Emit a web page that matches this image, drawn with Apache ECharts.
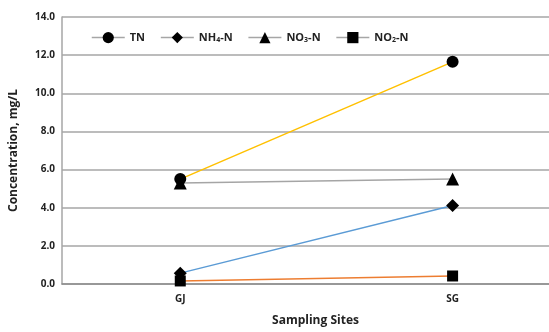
<!DOCTYPE html>
<html>
<head>
<meta charset="utf-8">
<script src="https://cdn.jsdelivr.net/npm/echarts@6/dist/echarts.min.js"></script>
<style>
  html, body { margin: 0; padding: 0; background: #fff; }
  #chart { width: 549px; height: 332px; }
</style>
</head>
<body>
<div id="chart"></div>
<script>
// Sampling sites (placed at x = 1, 2 on a numeric axis)
const sites = ['GJ', 'SG'];
const sitePos = [1, 2];

// Concentrations, mg/L
const tn  = [5.5, 11.65];
const nh4 = [0.57, 4.12];
const no3 = [5.3, 5.5];
const no2 = [0.16, 0.42];

const yTicks = [0, 2, 4, 6, 8, 10, 12, 14];

const FONT = '"Open Sans", "Noto Sans", sans-serif';

function pairs(vals) {
  return vals.map((v, i) => [sitePos[i], v]);
}

const seriesDefs = [
  { name: 'TN',   data: tn,  symbol: 'circle',   size: 12, color: '#FFC000' },
  { name: 'NH4',  data: nh4, symbol: 'diamond',  size: 13, color: '#5B9BD5' },
  { name: 'NO3',  data: no3, symbol: 'triangle', size: 13, color: '#A5A5A5' },
  { name: 'NO2',  data: no2, symbol: 'rect',     size: 11, color: '#ED7D31' }
];

const legendText = {
  TN: 'TN',
  NH4: 'NH{s|4}-N',
  NO3: 'NO{s|3}-N',
  NO2: 'NO{s|2}-N'
};

const chart = echarts.init(document.getElementById('chart'), null, { renderer: 'canvas' });

chart.setOption({
  animation: false,
  grid: { left: 59, right: 0, top: 17, bottom: 46, containLabel: false },
  legend: {
    top: 27,
    left: 86,
    itemWidth: 33,
    itemHeight: 14,
    itemGap: 15,
    data: seriesDefs.map(s => ({
      name: s.name,
      itemStyle: { color: '#000' },
      lineStyle: { color: '#a6a6a6', width: 1.5 }
    })),
    formatter: n => legendText[n],
    textStyle: {
      fontFamily: FONT, fontSize: 11, fontWeight: 'bold', color: '#222',
      rich: {
        s: { fontFamily: FONT, fontSize: 7, fontWeight: 'bold', color: '#222', verticalAlign: 'bottom', padding: [5, 0, 0, 0] }
      }
    }
  },
  xAxis: {
    type: 'value',
    min: 0.5657,
    max: 2.354,
    name: 'Sampling Sites',
    nameLocation: 'middle',
    nameGap: 31,
    nameTextStyle: { fontFamily: FONT, fontSize: 12, fontWeight: 'bold', color: '#222', padding: [0, 0, 0, 20] },
    axisLine: { show: true, lineStyle: { color: '#8c8c8c', width: 1.5 } },
    axisTick: { show: false },
    splitLine: { show: false },
    axisLabel: {
      customValues: sitePos,
      formatter: v => sites[sitePos.indexOf(Math.round(v))] || '',
      fontFamily: FONT, fontSize: 10, fontWeight: 'bold', color: '#222', margin: 10
    }
  },
  yAxis: {
    type: 'value',
    min: 0,
    max: 14,
    interval: 2,
    name: 'Concentration, mg/L',
    nameLocation: 'middle',
    nameGap: 42,
    nameTextStyle: { fontFamily: FONT, fontSize: 12, fontWeight: 'bold', color: '#222' },
    axisLine: { show: true, lineStyle: { color: '#a6a6a6', width: 1.5 } },
    axisTick: { show: false },
    splitLine: { show: true, lineStyle: { color: '#a6a6a6', width: 1.5 } },
    axisLabel: {
      formatter: v => v.toFixed(1),
      fontFamily: FONT, fontSize: 10, fontWeight: 'bold', color: '#222', margin: 7
    }
  },
  series: seriesDefs.map(s => ({
    name: s.name,
    type: 'line',
    data: pairs(s.data),
    symbol: s.symbol,
    symbolSize: s.size,
    showAllSymbol: true,
    lineStyle: { color: s.color, width: 1.5 },
    itemStyle: { color: '#000' },
    z: 3
  }))
});
</script>
</body>
</html>
